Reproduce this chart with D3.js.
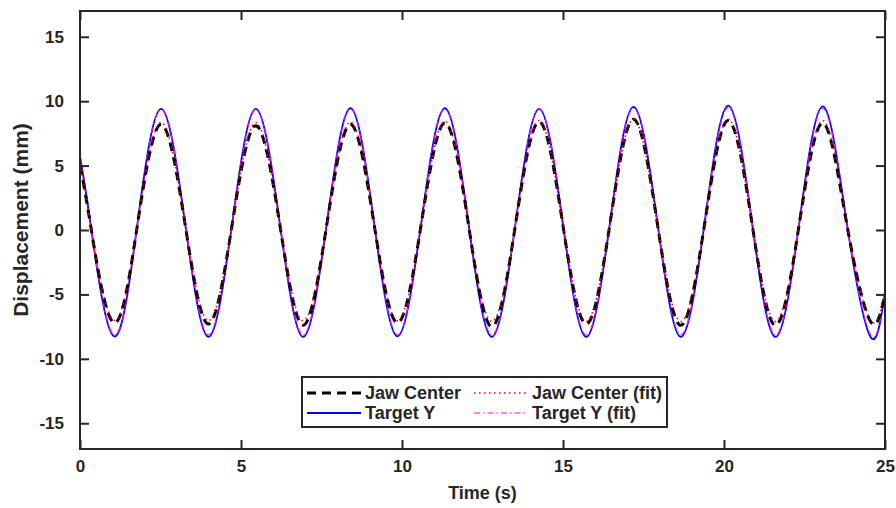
<!DOCTYPE html>
<html>
<head>
<meta charset="utf-8">
<script src="https://cdn.jsdelivr.net/npm/d3@7"></script>
<style>
  body { margin: 0; background: #fff; }
  svg text { font-family: "Liberation Sans", Arial, sans-serif; font-weight: bold; fill: #262626; }
</style>
</head>
<body>
<svg id="chart" width="896" height="508"></svg>
<script>
"use strict"
// Jaw center vs target displacement over 25 s

// knot times (s): start, zero crossings, troughs and peaks, end
var times = [0, 0.32, 1.05, 1.79, 2.52, 3.26, 3.99, 4.73, 5.46, 6.20, 6.93, 7.67, 8.40, 9.13,
  9.86, 10.60, 11.33, 12.06, 12.79, 13.53, 14.26, 14.99, 15.72, 16.46, 17.19, 17.93, 18.66,
  19.40, 20.13, 20.87, 21.60, 22.34, 23.07, 23.81, 24.55, 25];

var targetY = [5.7, 0.6, -8.25, 0.6, 9.4, 0.6, -8.3, 0.6, 9.4, 0.6, -8.3, 0.6, 9.45, 0.6,
  -8.25, 0.6, 9.45, 0.6, -8.3, 0.6, 9.4, 0.6, -8.3, 0.6, 9.55, 0.6, -8.3, 0.6, 9.65, 0.6,
  -8.3, 0.6, 9.6, 0.6, -8.3, -4.8];

var targetYFit = [5.8, 0.6, -8.15, 0.6, 9.35, 0.6, -8.15, 0.6, 9.35, 0.6, -8.15, 0.6, 9.4, 0.6,
  -8.15, 0.6, 9.4, 0.6, -8.15, 0.6, 9.4, 0.6, -8.15, 0.6, 9.45, 0.6, -8.15, 0.6, 9.5, 0.6,
  -8.15, 0.6, 9.45, 0.6, -8.15, -4.7];

var jawCenter = [5.0, 0.5, -7.2, 0.5, 8.2, 0.5, -7.3, 0.5, 8.1, 0.5, -7.4, 0.5, 8.2, 0.5,
  -7.2, 0.5, 8.3, 0.5, -7.5, 0.5, 8.4, 0.5, -7.3, 0.5, 8.6, 0.5, -7.4, 0.5, 8.5, 0.5,
  -7.4, 0.5, 8.3, 0.5, -7.1, -4.9];

var jawCenterFit = [5.1, 0.5, -7.0, 0.5, 8.35, 0.5, -7.05, 0.5, 8.35, 0.5, -7.05, 0.5, 8.4, 0.5,
  -7.05, 0.5, 8.45, 0.5, -7.1, 0.5, 8.5, 0.5, -7.1, 0.5, 8.6, 0.5, -7.1, 0.5, 8.6, 0.5,
  -7.1, 0.5, 8.5, 0.5, -7.0, -4.7];

var xTicks = [0, 5, 10, 15, 20, 25],
    yTicks = [-15, -10, -5, 0, 5, 10, 15];

var legendNames = ["Jaw Center", "Jaw Center (fit)", "Target Y", "Target Y (fit)"];

var svg = d3.select("svg#chart"),
    plotL = 80, plotR = 885, plotT = 11, plotB = 449,
    axisColor = "#262626";

var x = d3.scaleLinear().domain([0, 25]).range([plotL, plotR]),
    y = d3.scaleLinear().domain([-17, 17]).range([plotB, plotT]);

// series styles, drawn in this order (legend keeps its own order)
var series = [
  { name: "Target Y",         values: targetY,      color: "#0000ff", width: 1.8, dash: null },
  { name: "Target Y (fit)",   values: targetYFit,   color: "#ff00ff", width: 1.2, dash: "6,3,1.5,3" },
  { name: "Jaw Center",       values: jawCenter,    color: "#000000", width: 3,   dash: "9,6" },
  { name: "Jaw Center (fit)", values: jawCenterFit, color: "#ff0000", width: 1.5, dash: "1.5,3.5" }
];

var line = d3.line()
    .x(function(d) { return x(d[0]); })
    .y(function(d) { return y(d[1]); })
    .curve(d3.curveNatural);

svg.append("defs").append("clipPath").attr("id", "plotclip")
  .append("rect").attr("x", plotL).attr("y", plotT).attr("width", plotR - plotL).attr("height", plotB - plotT);

svg.append("g").attr("clip-path", "url(#plotclip)")
  .selectAll("path")
    .data(series)
  .enter().append("path")
    .attr("fill", "none")
    .attr("stroke", function(d) { return d.color; })
    .attr("stroke-width", function(d) { return d.width; })
    .attr("stroke-dasharray", function(d) { return d.dash; })
    .attr("d", function(d) { return line(times.map(function(t, i) { return [t, d.values[i]]; })); });

// axes, ticks inward on all four sides
function styleAxis(g) {
  g.select(".domain").remove();
  g.selectAll(".tick line").attr("stroke", axisColor).attr("stroke-width", 2);
  g.selectAll(".tick text").attr("fill", axisColor).style("font-size", "17px");
}

svg.append("g").attr("transform", "translate(0," + plotB + ")")
  .call(d3.axisBottom(x).tickValues(xTicks).tickFormat(String).tickSize(-9).tickSizeOuter(0).tickPadding(11))
  .call(styleAxis);
svg.append("g").attr("transform", "translate(0," + plotT + ")")
  .call(d3.axisTop(x).tickValues(xTicks).tickFormat("").tickSize(-9).tickSizeOuter(0))
  .call(styleAxis);
svg.append("g").attr("transform", "translate(" + plotL + ",0)")
  .call(d3.axisLeft(y).tickValues(yTicks).tickFormat(String).tickSize(-9).tickSizeOuter(0).tickPadding(16))
  .call(styleAxis);
svg.append("g").attr("transform", "translate(" + plotR + ",0)")
  .call(d3.axisRight(y).tickValues(yTicks).tickFormat("").tickSize(-9).tickSizeOuter(0))
  .call(styleAxis);

svg.append("rect")
    .attr("x", plotL).attr("y", plotT).attr("width", plotR - plotL).attr("height", plotB - plotT)
    .attr("fill", "none").attr("stroke", axisColor).attr("stroke-width", 2);

// axis labels
svg.append("text")
    .attr("x", (plotL + plotR) / 2).attr("y", 499)
    .attr("text-anchor", "middle").style("font-size", "18px")
    .text("Time (s)");
svg.append("text")
    .attr("transform", "translate(28,220) rotate(-90)")
    .attr("text-anchor", "middle").style("font-size", "21px")
    .text("Displacement (mm)");

// legend, 2 columns
var legend = svg.append("g");
legend.append("rect")
    .attr("x", 302).attr("y", 377).attr("width", 365).attr("height", 50)
    .attr("fill", "#fff").attr("stroke", axisColor).attr("stroke-width", 2);

var cols = [307, 474], rows = [393, 413];
var entry = legend.selectAll("g.entry")
    .data(legendNames)
  .enter().append("g")
    .attr("class", "entry")
    .attr("transform", function(d, i) { return "translate(" + cols[i % 2] + "," + rows[Math.floor(i / 2)] + ")"; });

entry.append("line")
    .attr("x1", 0).attr("x2", 54).attr("y1", 0).attr("y2", 0)
    .each(function(name) {
      var s = series.filter(function(d) { return d.name === name; })[0];
      d3.select(this)
        .attr("stroke", s.color)
        .attr("stroke-width", s.width)
        .attr("stroke-dasharray", s.dash);
    });

entry.append("text")
    .attr("x", 58).attr("y", 0).attr("dy", "0.36em")
    .style("font-size", "18px")
    .text(function(d) { return d; });
</script>
</body>
</html>
